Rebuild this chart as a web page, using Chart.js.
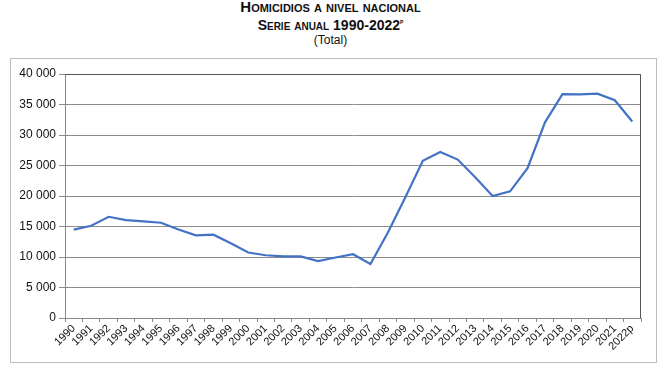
<!DOCTYPE html>
<html>
<head>
<meta charset="utf-8">
<script src="https://cdn.jsdelivr.net/npm/chart.js@4.4.0/dist/chart.umd.min.js"></script>
<style>
  body { margin: 0; background: #fff; width: 661px; height: 366px; overflow: hidden; font-family: "Liberation Sans", Arial, sans-serif; }
  #titulo { position: absolute; left: 0; top: 0; width: 661px; text-align: center; color: #111; }
  #titulo .l1 { font-weight: bold; font-variant: small-caps; font-size: 15px; line-height: 14px; }
  #titulo .l2 { font-weight: bold; font-variant: small-caps; font-size: 14px; line-height: 16px; }
  #titulo .l2 sup { font-size: 7px; }
  #titulo .l3 { font-size: 12px; line-height: 14px; }
  #marco { position: absolute; left: 10px; top: 58px; width: 645px; height: 303px; border: 1px solid #bdbdbd; }
  #grafica { display: block; }
</style>
</head>
<body>
<div id="titulo">
  <div class="l1">Homicidios a nivel nacional</div>
  <div class="l2">Serie anual 1990-2022<sup>p</sup></div>
  <div class="l3">(Total)</div>
</div>
<div id="marco"><canvas id="grafica" width="645" height="303"></canvas></div>
<script>
const anios = ['1990','1991','1992','1993','1994','1995','1996','1997','1998','1999','2000','2001','2002','2003','2004','2005','2006','2007','2008','2009','2010','2011','2012','2013','2014','2015','2016','2017','2018','2019','2020','2021','2022p'];
const homicidios = [14493,15125,16594,16050,15839,15612,14505,13552,13656,12249,10737,10285,10088,10087,9329,9921,10452,8867,14006,19803,25757,27213,25967,23063,20010,20762,24559,32079,36685,36661,36773,35700,32223];
const marcasY = [0,5000,10000,15000,20000,25000,30000,35000,40000];

function formatoMiles(v) {
    return String(v).replace(/\B(?=(\d{3})+(?!\d))/g, ' ');
}

// borde del área de trazado
const bordeArea = {
    id: 'bordeArea',
    afterDraw(chart) {
        const a = chart.chartArea;
        const ctx = chart.ctx;
        ctx.save();
        ctx.strokeStyle = '#555';
        ctx.lineWidth = 1;
        ctx.beginPath();
        ctx.moveTo(a.left, a.top + 0.5);
        ctx.lineTo(a.right - 0.5, a.top + 0.5);
        ctx.lineTo(a.right - 0.5, a.bottom);
        ctx.stroke();
        ctx.restore();
    }
};

const ctx = document.getElementById('grafica').getContext('2d');
const grafica = new Chart(ctx, {
    type: 'line',
    data: {
        labels: anios,
        datasets: [{
            label: 'Homicidios',
            data: homicidios,
            borderColor: '#4472C4',
            borderWidth: 2.2,
            pointRadius: 0,
            tension: 0,
            fill: false
        }]
    },
    options: {
        responsive: false,
        animation: false,
        layout: { padding: { top: 15, right: 15, left: 0, bottom: 0 } },
        plugins: {
            legend: { display: false },
            tooltip: { enabled: false }
        },
        scales: {
            x: {
                offset: true,
                grid: {
                    offset: true,
                    drawOnChartArea: false,
                    drawTicks: true,
                    tickLength: 4,
                    color: '#888'
                },
                border: { color: '#888', width: 1 },
                ticks: {
                    autoSkip: false,
                    maxRotation: 45,
                    minRotation: 45,
                    padding: 0,
                    color: '#111',
                    font: { family: 'Liberation Sans', size: 11 }
                },
                afterFit(scale) { scale.height = 44; }
            },
            y: {
                min: 0,
                max: 40000,
                afterBuildTicks(scale) { scale.ticks = marcasY.map(v => ({ value: v })); },
                grid: {
                    color: '#8c8c8c',
                    lineWidth: 1,
                    tickLength: 6
                },
                border: { color: '#888', width: 1 },
                ticks: {
                    padding: 3,
                    color: '#111',
                    font: { family: 'Liberation Sans', size: 12 },
                    callback: v => formatoMiles(v)
                },
                afterFit(scale) { scale.width = 54; }
            }
        }
    },
    plugins: [bordeArea]
});
</script>
</body>
</html>
